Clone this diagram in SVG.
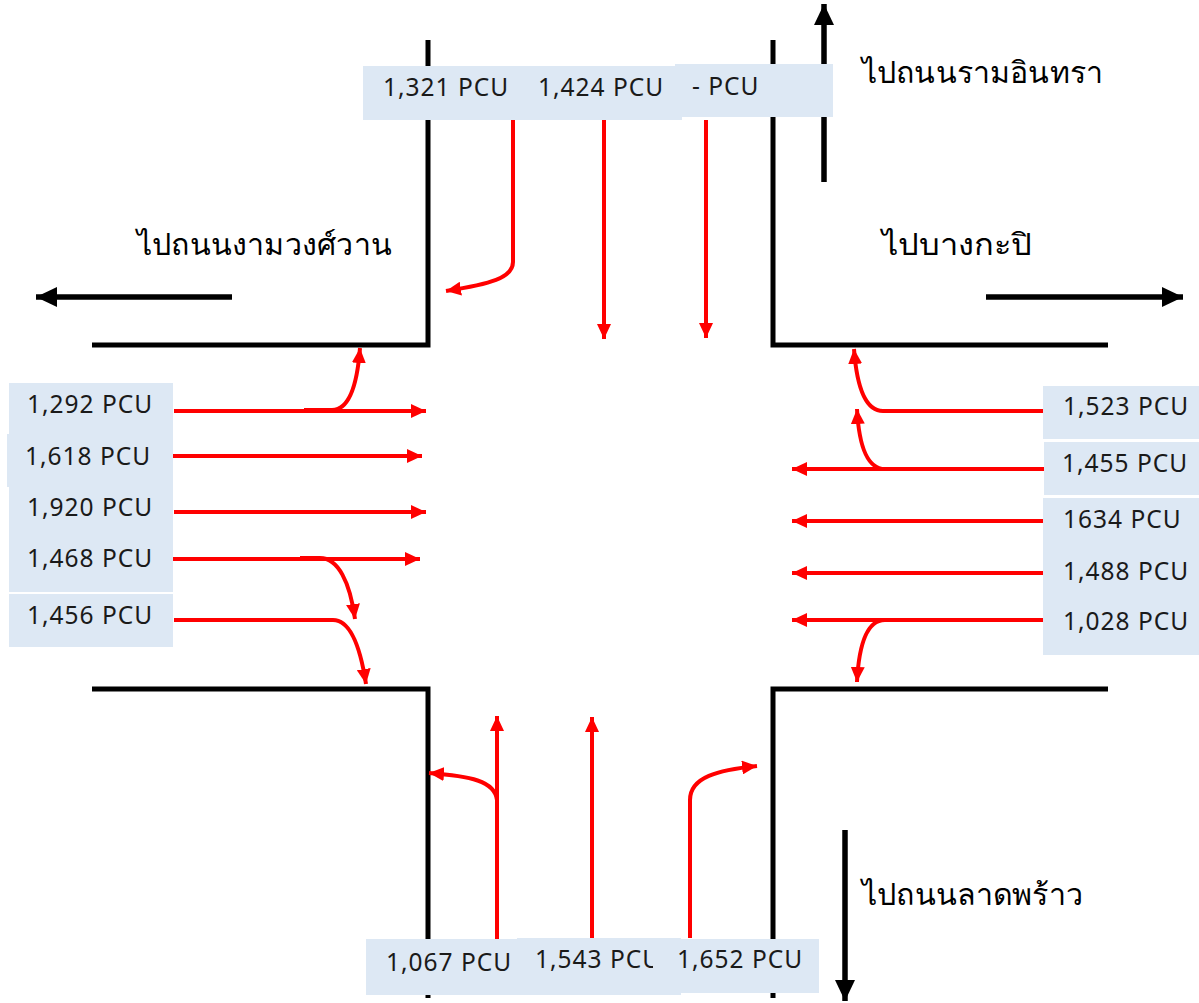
<svg xmlns="http://www.w3.org/2000/svg" width="1199" height="1003" viewBox="0 0 1199 1003">
  <defs>
    <marker id="redHead" markerUnits="userSpaceOnUse" markerWidth="16" markerHeight="14" refX="15" refY="7" orient="auto">
      <path d="M0,0 L15,7 L0,14 Z" fill="#ff0000"/>
    </marker>
    <marker id="blackHead" markerUnits="userSpaceOnUse" markerWidth="22" markerHeight="20" refX="21" refY="10" orient="auto">
      <path d="M0,0 L21,10 L0,20 Z" fill="#000"/>
    </marker>
  </defs>
  <style>
    .edge { stroke: #000; stroke-width: 5; fill: none; stroke-linecap: butt; }
    .flow { stroke: #ff0000; stroke-width: 4; fill: none; marker-end: url(#redHead); }
    .dir { stroke: #000; stroke-width: 5.5; fill: none; marker-end: url(#blackHead); }
    .box { fill: #dde8f4; }
    .vol { font-family: "Noto Sans", "Open Sans", "DejaVu Sans", sans-serif; font-size: 24.5px; letter-spacing: 1px; fill: #1a1a1a; }
    .dest { font-family: "Noto Sans", "DejaVu Sans", sans-serif; font-size: 30px; fill: #000; }
  </style>

  <rect width="1199" height="1003" fill="#fff"/>

  <!-- Kerb lines of the four corners -->
  <g id="kerbs">
    <path class="edge" d="M428,40 V345 H92"/>
    <path class="edge" d="M773,40 V345 H1108"/>
    <path class="edge" d="M92,689 H428 V998"/>
    <path class="edge" d="M1108,689 H773 V998"/>
  </g>

  <!-- Traffic movements -->
  <g id="connectors">
    <!-- north approach -->
    <path class="flow" d="M513,120 V262 C513,278 490,284 446,291"/>
    <path class="flow" d="M604,120 V339"/>
    <path class="flow" d="M706,120 V338"/>
    <!-- west approach -->
    <path class="flow" d="M174,411 H426"/>
    <path class="flow" d="M304,410 H332 C348,410 357,388 360,348"/>
    <path class="flow" d="M173,456 H422"/>
    <path class="flow" d="M174,512 H426"/>
    <path class="flow" d="M169,559 H420"/>
    <path class="flow" d="M300,558 H320 C338,558 350,582 355,619"/>
    <path class="flow" d="M174,620 H333 C350,620 360,645 366,684"/>
    <!-- east approach -->
    <path class="flow" d="M1043,411 H883 C866,411 857,390 854,349"/>
    <path class="flow" d="M1044,469 H792"/>
    <path class="flow" d="M912,469 H885 C868,469 859,447 857,409"/>
    <path class="flow" d="M1043,521 H792"/>
    <path class="flow" d="M1043,573 H792"/>
    <path class="flow" d="M1043,620 H792"/>
    <path class="flow" d="M912,620 H885 C868,620 859,642 857,682"/>
    <!-- south approach -->
    <path class="flow" d="M497,939 V716"/>
    <path class="flow" d="M497,800 C495,781 470,776 429,773"/>
    <path class="flow" d="M592,938 V717"/>
    <path class="flow" d="M690,938 V800 C690,777 718,770 757,766"/>
    <!-- destination arrows -->
    <path class="dir" d="M824,182 V4"/>
    <path class="dir" d="M232,297 H36"/>
    <path class="dir" d="M986,297 H1183"/>
    <path class="dir" d="M845,830 V1001"/>
  </g>

  <!-- Destination labels -->
  <g id="dest-north"><text class="dest" x="862" y="83" textLength="241" lengthAdjust="spacingAndGlyphs">ไปถนนรามอินทรา</text></g>
  <g id="dest-west"><text class="dest" x="137" y="255" textLength="255" lengthAdjust="spacingAndGlyphs">ไปถนนงามวงศ์วาน</text></g>
  <g id="dest-east"><text class="dest" x="882" y="255" textLength="150" lengthAdjust="spacingAndGlyphs">ไปบางกะปิ</text></g>
  <g id="dest-south"><text class="dest" x="862" y="905" textLength="221" lengthAdjust="spacingAndGlyphs">ไปถนนลาดพร้าว</text></g>

  <!-- North volumes -->
  <g id="north-volumes">
    <rect class="box" x="363" y="66" width="157" height="54"/>
    <text class="vol" x="383" y="96">1,321 PCU</text>
    <rect class="box" x="520" y="66" width="162" height="54"/>
    <text class="vol" x="538" y="96">1,424 PCU</text>
    <rect class="box" x="675" y="64" width="158" height="53"/>
    <text class="vol" x="692" y="95">- PCU</text>
  </g>

  <!-- West volumes -->
  <g id="west-volumes">
    <rect class="box" x="9" y="383" width="164" height="52"/>
    <text class="vol" x="27" y="413">1,292 PCU</text>
    <rect class="box" x="7" y="434" width="166" height="53"/>
    <text class="vol" x="25" y="465">1,618 PCU</text>
    <rect class="box" x="9" y="487" width="164" height="105"/>
    <text class="vol" x="27" y="516">1,920 PCU</text>
    <text class="vol" x="27" y="567">1,468 PCU</text>
    <rect class="box" x="9" y="594" width="164" height="53"/>
    <text class="vol" x="27" y="624">1,456 PCU</text>
  </g>

  <!-- East volumes -->
  <g id="east-volumes">
    <rect class="box" x="1043" y="386" width="156" height="53"/>
    <text class="vol" x="1063" y="415">1,523 PCU</text>
    <rect class="box" x="1044" y="442" width="155" height="53"/>
    <text class="vol" x="1062" y="472">1,455 PCU</text>
    <rect class="box" x="1043" y="498" width="156" height="157"/>
    <text class="vol" x="1063" y="528">1634 PCU</text>
    <text class="vol" x="1063" y="580">1,488 PCU</text>
    <text class="vol" x="1063" y="630">1,028 PCU</text>
  </g>

  <!-- South volumes -->
  <g id="south-volumes">
    <rect class="box" x="366" y="939" width="151" height="56"/>
    <text class="vol" x="386" y="971">1,067 PCU</text>
    <rect class="box" x="517" y="938" width="164" height="57"/>
    <text class="vol" x="535" y="968">1,543 PCU</text>
    <rect class="box" x="653" y="939" width="166" height="54"/>
    <text class="vol" x="677" y="968">1,652 PCU</text>
  </g>
</svg>
